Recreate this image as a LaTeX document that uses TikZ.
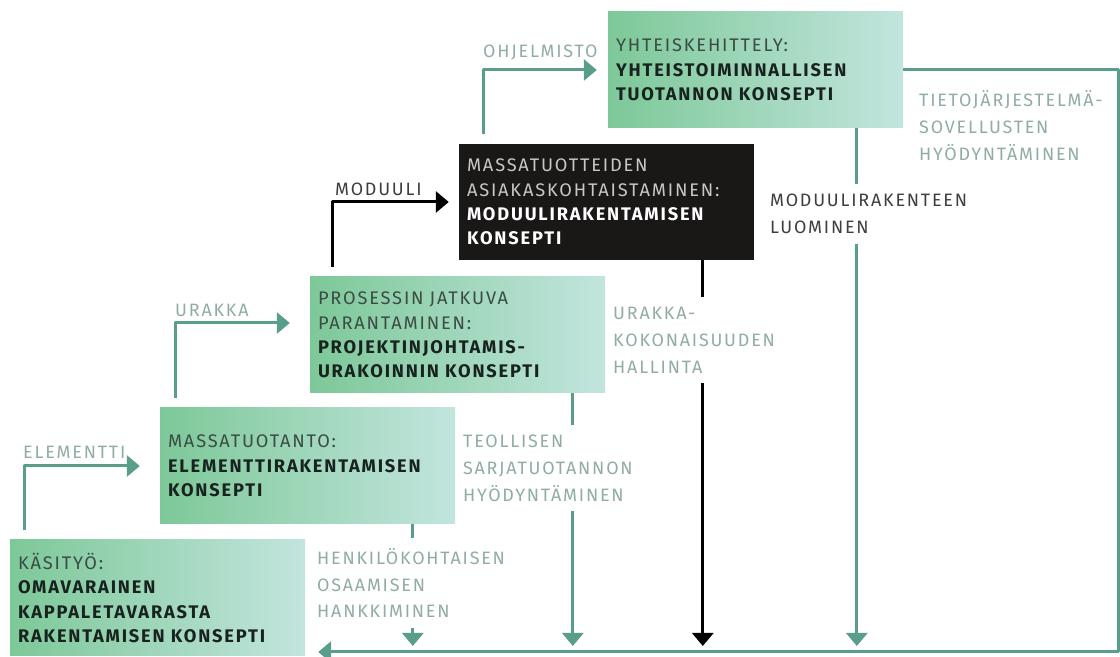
\documentclass[tikz,border=0pt]{standalone}
\usepackage{fontspec}
\setmainfont{Fira Sans}
\newfontfamily\dinfont[LetterSpace=10]{Fira Sans}
\usetikzlibrary{arrows.meta}
\definecolor{flowcol}{RGB}{88,158,138}
\definecolor{labelcol}{RGB}{145,172,166}
\definecolor{darklabel}{RGB}{62,62,62}
\definecolor{boxleft}{RGB}{125,200,152}
\definecolor{boxright}{RGB}{194,229,222}
\definecolor{boxtext}{RGB}{58,76,68}
\definecolor{boldtext}{RGB}{24,34,30}
\definecolor{nightfill}{RGB}{26,23,23}
\colorlet{strongcol}{boldtext}
\newcommand{\boldline}[1]{{\bfseries\color{strongcol}#1}}

\begin{document}
\begin{tikzpicture}[>={Triangle[length=13bp,width=21bp]},line join=bevel,
  box/.style={rectangle,minimum width=295bp,minimum height=116bp,text width=279bp,
    inner xsep=8bp,inner ysep=0pt,align=left,font=\dinfont\fontsize{18.3}{24.5}\selectfont},
  greenbox/.style={box,left color=boxleft,right color=boxright,text=boxtext},
  blackbox/.style={box,fill=nightfill,text=black!22,
    execute at begin node={\colorlet{strongcol}{white}}},
  flow/.style={draw=flowcol,line width=3bp},
  blackflow/.style={draw=black,line width=3bp},
  tag/.style={text=labelcol,font=\dinfont\fontsize{18}{27}\selectfont,align=left,
    inner xsep=2bp,anchor=west},
  cuttag/.style={tag,fill=white,inner ysep=10bp},
]
  \useasboundingbox (0bp,0bp) rectangle (1120bp,657bp);
%%
  % Node: kasityo
  \node[greenbox] (kasityo) at (157.5bp,59bp) {KÄSITYÖ:\\ \boldline{OMAVARAINEN}\\ \boldline{KAPPALETAVARASTA}\\ \boldline{RAKENTAMISEN KONSEPTI}};
  % Node: massa
  \node[greenbox] (massa) at (307.5bp,191bp) {MASSATUOTANTO:\\ \boldline{ELEMENTTIRAKENTAMISEN}\\ \boldline{KONSEPTI}};
  % Node: prosessi
  \node[greenbox] (prosessi) at (457.5bp,322bp) {PROSESSIN JATKUVA\\ PARANTAMINEN:\\ \boldline{PROJEKTINJOHTAMIS-}\\ \boldline{URAKOINNIN KONSEPTI}};
  % Node: moduuli
  \node[blackbox] (moduuli) at (606.5bp,455bp) {MASSATUOTTEIDEN\\ ASIAKASKOHTAISTAMINEN:\\ \boldline{MODUULIRAKENTAMISEN}\\ \boldline{KONSEPTI}};
  % Node: yhteis
  \node[greenbox] (yhteis) at (755.5bp,587bp) {YHTEISKEHITTELY:\\ \boldline{YHTEISTOIMINNALLISEN}\\ \boldline{TUOTANNON KONSEPTI}};
%
  \coordinate (base) at (1118bp,5bp);
  \coordinate (drop2) at ([xshift=253bp]massa.south west);
  \coordinate (drop3) at ([xshift=263bp]prosessi.south west);
  \coordinate (drop4) at ([xshift=244bp]moduuli.south west);
  \coordinate (drop5) at ([xshift=249bp]yhteis.south west);
%
  % Edge: kasityo -> massa
  \draw [flow,->,shorten <=10bp,shorten >=20bp] ([xshift=15bp]kasityo.north west) |- (massa.west);
  % Edge: massa -> prosessi
  \draw [flow,->,shorten <=10bp,shorten >=20bp] ([xshift=16bp]massa.north west) |- ([yshift=12bp]prosessi.west);
  % Edge: prosessi -> moduuli
  \draw [blackflow,->,shorten <=10bp,shorten >=10bp] ([xshift=23bp]prosessi.north west) |- (moduuli.west);
  % Edge: moduuli -> yhteis
  \draw [flow,->,shorten <=10bp,shorten >=11bp] ([xshift=25bp]moduuli.north west) |- (yhteis.west);
  % Edge: yhteis -> kasityo
  \draw [flow,->,shorten >=13bp] (yhteis.east) -| (base) -- (kasityo.east |- base);
  % Edge: massa -> base
  \draw [flow,->,shorten >=6bp] (drop2) -- (drop2 |- base);
  % Edge: prosessi -> base
  \draw [flow,->,shorten >=6bp] (drop3) -- (drop3 |- base);
  % Edge: moduuli -> base
  \draw [blackflow,->,shorten >=6bp] (drop4) -- (drop4 |- base);
  % Edge: yhteis -> base
  \draw [flow,->,shorten >=6bp] (drop5) -- (drop5 |- base);
%
  % Labels
  \node[tag] (elementti) at (21bp,205bp) {ELEMENTTI};
  \node[tag] (urakka) at (173bp,347bp) {URAKKA};
  \node[tag,text=darklabel] (moduulitag) at (333bp,468bp) {MODUULI};
  \node[tag] (ohjelmisto) at (481bp,605bp) {OHJELMISTO};
  \node[tag] (tieto) at (917bp,531.5bp) {TIETOJÄRJESTELMÄ-\\SOVELLUSTEN\\HYÖDYNTÄMINEN};
  \node[cuttag,text=darklabel] (luominen) at (768bp,443bp) {MODUULIRAKENTEEN\\LUOMINEN};
  \node[cuttag] (hallinta) at (611bp,317bp) {URAKKA-\\KOKONAISUUDEN\\HALLINTA};
  \node[cuttag] (sarja) at (461bp,189bp) {TEOLLISEN\\SARJATUOTANNON\\HYÖDYNTÄMINEN};
  \node[cuttag] (osaaminen) at (315bp,74bp) {HENKILÖKOHTAISEN\\OSAAMISEN\\HANKKIMINEN};
%
\end{tikzpicture}
\end{document}
